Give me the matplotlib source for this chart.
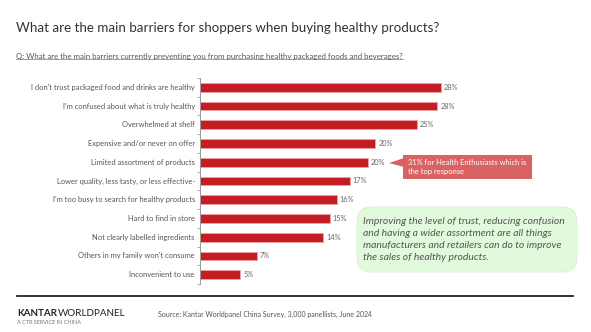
import matplotlib
matplotlib.use("Agg")
import matplotlib.pyplot as plt
from matplotlib.patches import FancyBboxPatch, Polygon
from matplotlib.lines import Line2D

plt.rcParams['font.family'] = ['Lato', 'DejaVu Sans']

title = "What are the main barriers for shoppers when buying healthy products?"
subtitle = "Q: What are the main barriers currently preventing you from purchasing healthy packaged foods and beverages?"
categories = [
    "I don't trust packaged food and drinks are healthy",
    "I'm confused about what is truly healthy",
    "Overwhelmed at shelf",
    "Expensive and/or never on offer",
    "Limited assortment of products",
    "Lower quality, less tasty, or less effective-",
    "I'm too busy to search for healthy products",
    "Hard to find in store",
    "Not clearly labelled ingredients",
    "Others in my family won't consume",
    "Inconvenient to use",
]
values = [28.0, 27.6, 25.2, 20.4, 19.5, 17.4, 15.9, 15.1, 14.3, 6.6, 4.7]
labels = ["28%", "28%", "25%", "20%", "20%", "17%", "16%", "15%", "14%", "7%", "5%"]
callout_text = "31% for Health Enthusiasts which is\nthe top response"
callout_index = 4
insight_text = ("Improving the level of trust, reducing confusion\n"
                "and having a wider assortment are all things\n"
                "manufacturers and retailers can do to improve\n"
                "the sales of healthy products.")
source_text = "Source: Kantar Worldpanel China Survey, 3,000 panellists, June 2024"

W, H = 591, 332
fig = plt.figure(figsize=(W / 100, H / 100), dpi=100)
fig.patch.set_facecolor("white")

def fx(px):
    return px / W

def fy(py):
    return 1 - py / H

# axes: x from 200 to 560 px, y from 78 to 284 px
ax = fig.add_axes([fx(200), fy(284), fx(360), (284 - 78) / H])
n = len(categories)
ypos = list(range(n))
ax.barh(ypos, values, height=0.47, color="#C41E24", edgecolor="#F0A0A0", linewidth=0.6)
ax.set_ylim(n - 0.5, -0.5)
ax.set_xlim(0, 360 / 8.6)
for s in ["top", "right", "bottom"]:
    ax.spines[s].set_visible(False)
ax.spines["left"].set_color("#999999")
ax.spines["left"].set_linewidth(0.7)
ax.set_xticks([])
ax.set_yticks([i - 0.5 for i in range(n + 1)])
ax.set_yticklabels([])
ax.tick_params(axis="y", length=2.5, width=0.6, color="#999999")
for i, c in enumerate(categories):
    ax.text(-0.6, i, c, ha="right", va="center", fontsize=5.4, color="#555555")
for i, (v, lab) in enumerate(zip(values, labels)):
    ax.text(v + 0.35, i, lab, ha="left", va="center", fontsize=5.3, color="#666666")

# title & subtitle
fig.text(fx(16), fy(28), title, fontsize=9.6, color="#333333", va="center", ha="left")
st = fig.text(fx(16), fy(56), subtitle, fontsize=5.65, color="#555555", va="center", ha="left")
fig.canvas.draw()
bb = st.get_window_extent()
fig.add_artist(Line2D([bb.x0 / W, bb.x1 / W], [(bb.y0 + 0.3) / H] * 2,
                      transform=fig.transFigure, color="#777777", lw=0.5))

# callout box
cx0, cx1, cy0, cy1 = 403, 532, 155, 179
fig.add_artist(FancyBboxPatch((fx(cx0), fy(cy1)), fx(cx1 - cx0), (cy1 - cy0) / H,
                              boxstyle="square,pad=0", transform=fig.transFigure,
                              facecolor="#D96263", edgecolor="none"))
fig.add_artist(Polygon([[fx(389), fy(163)], [fx(cx0 + 1), fy(158)], [fx(cx0 + 1), fy(167)]],
                       closed=True, transform=fig.transFigure,
                       facecolor="#D96263", edgecolor="none"))
fig.text(fx(408), fy(167), callout_text, fontsize=5.4, color="white",
         va="center", ha="left", linespacing=1.35)

# insight box
gx0, gx1, gy0, gy1 = 357, 577, 207, 272
fig.add_artist(FancyBboxPatch((fx(gx0), fy(gy1)), fx(gx1 - gx0), (gy1 - gy0) / H,
                              boxstyle="round,pad=0,rounding_size=0.025",
                              mutation_aspect=W / H,
                              transform=fig.transFigure,
                              facecolor="#E2FADC", edgecolor="#D3F3CB", linewidth=0.6))
fig.text(fx(363), fy(239.5), insight_text, fontsize=7.5, style="italic", color="#555555",
         va="center", ha="left", linespacing=1.4)

# footer
fig.add_artist(Line2D([fx(17), fx(573)], [fy(296)] * 2, transform=fig.transFigure,
                      color="#222222", lw=1.3))
t1 = fig.text(fx(17), fy(313), "KANTAR", fontsize=7.1, fontweight="bold", color="#2B2118",
              va="center", ha="left")
fig.canvas.draw()
b1 = t1.get_window_extent()
fig.text(b1.x1 / W + 0.002, fy(313), "WORLDPANEL", fontsize=7.1, color="#222222",
         va="center", ha="left")
fig.text(fx(17), fy(323), "A CTR SERVICE IN CHINA", fontsize=4.0, color="#777777",
         va="center", ha="left")
fig.text(fx(158), fy(314), source_text, fontsize=5, color="#555555", va="center", ha="left")

fig.savefig("out.png", dpi=100, facecolor="white")
